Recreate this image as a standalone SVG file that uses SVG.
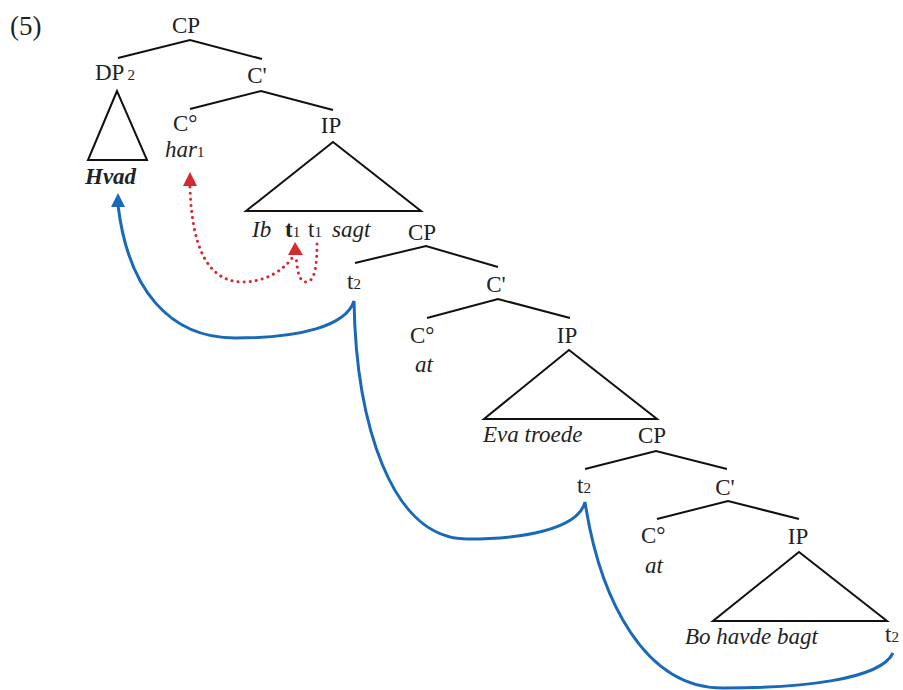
<svg xmlns="http://www.w3.org/2000/svg" width="903" height="690" viewBox="0 0 903 690">
<style>
text{font-family:"Liberation Serif","Times New Roman",serif;font-size:23px;fill:#222}
.c{text-anchor:middle}
.i{font-style:italic}
.sub{font-size:15px;font-style:normal;font-weight:normal}
.br{fill:none;stroke:#111;stroke-width:2;stroke-linejoin:miter}
.blue{fill:none;stroke:#1a69b8;stroke-width:3;stroke-linejoin:miter}
.red{fill:none;stroke:#d42a30;stroke-width:3;stroke-linecap:round;stroke-dasharray:0.1 6}
</style>
<rect width="903" height="690" fill="#fff"/>
<text x="10" y="35" style="font-size:27px">(5)</text>

<g id="cp1"><text class="c" x="186" y="33">CP</text><polyline class="br" points="118,58 190,40 262,59"/></g>
<g id="dp2"><text x="95" y="80">DP<tspan class="sub" dx="3">2</tspan></text><polygon class="br" points="117,91 88,160 147,160"/><text class="i" x="85" y="184" font-weight="bold">Hvad</text></g>
<g id="c1bar"><text class="c" x="257" y="83">C'</text><polyline class="br" points="190,109 261,91 333,110"/></g>
<g id="c1"><text x="173" y="131">C°</text><text class="i" x="165" y="157">har<tspan class="sub">1</tspan></text></g>
<g id="ip1"><text class="c" x="331" y="133">IP</text><polygon class="br" points="333,142 246,211 421,211"/>
<text class="i" x="252" y="237">Ib</text><text x="285" y="237" font-weight="bold">t<tspan class="sub">1</tspan></text><text x="308" y="237">t<tspan class="sub">1</tspan></text><text class="i" x="332" y="237">sagt</text></g>

<g id="cp2"><text class="c" x="422" y="240">CP</text><polyline class="br" points="355,263 426,246 498,267"/></g>
<g id="t2a"><text x="347" y="289">t<tspan class="sub">2</tspan></text></g>
<g id="c2bar"><text class="c" x="496" y="292">C'</text><polyline class="br" points="427,318 498,299 570,318"/></g>
<g id="c2"><text x="410" y="343">C°</text><text class="i" x="415" y="372">at</text></g>
<g id="ip2"><text class="c" x="567" y="343">IP</text><polygon class="br" points="569,350 484,419 657,419"/><text class="i" x="483" y="442">Eva troede</text></g>

<g id="cp3"><text class="c" x="652" y="443">CP</text><polyline class="br" points="585,469 656,451 727,469"/></g>
<g id="t2b"><text x="577" y="493">t<tspan class="sub">2</tspan></text></g>
<g id="c3bar"><text class="c" x="725" y="495">C'</text><polyline class="br" points="657,519 728,501 799,519"/></g>
<g id="c3"><text x="641" y="543">C°</text><text class="i" x="645" y="573">at</text></g>
<g id="ip3"><text class="c" x="798" y="544">IP</text><polygon class="br" points="799,552 713,621 887,621"/><text class="i" x="685" y="644">Bo havde bagt</text><text x="885" y="642">t<tspan class="sub">2</tspan></text></g>

<g id="connectors">
<path class="red" d="M190,187 C192,260 215,282 243,282 C265,282 285,270 294,255"/>
<path class="red" d="M317,244 C317,265 315,282 306,282 C298,282 297,266 296,256"/>
<polygon points="190,172 183,186 197,186" fill="#d42a30"/>
<polygon points="295,242 288,255 303,255" fill="#d42a30"/>
<path class="blue" d="M118,205 C128,290 170,338 235,338 C300,338 346,326 354,301 C356,420 390,540 468,539 C520,539 578,530 585,502 C600,600 645,690 725,688 C800,688 880,680 893,653"/>
<polygon points="118,193 111,207 125,207" fill="#1a69b8"/>
</g>
</svg>
